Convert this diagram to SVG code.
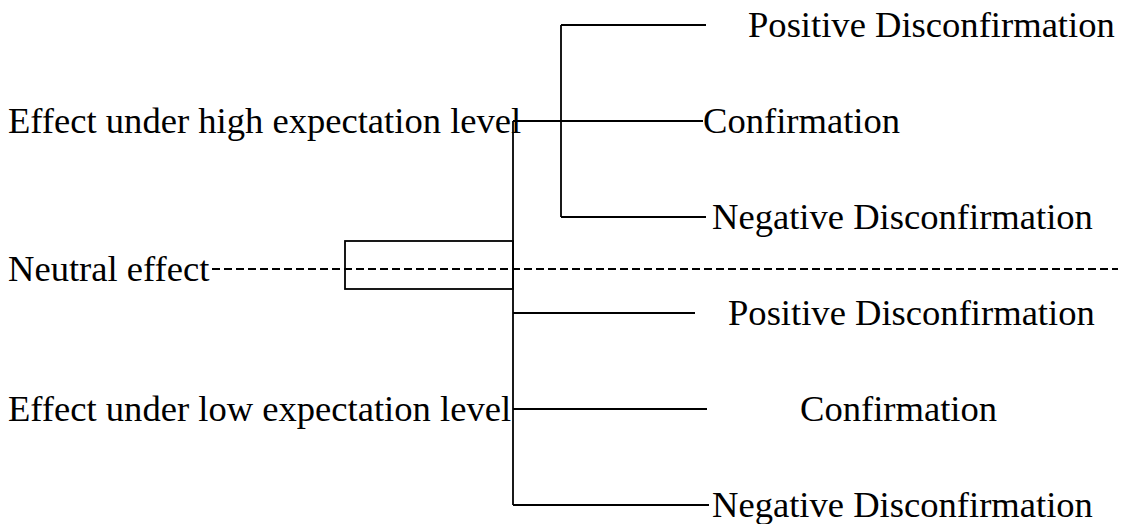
<svg xmlns="http://www.w3.org/2000/svg" width="1125" height="524" viewBox="0 0 1125 524">
<style>
text{font-family:"Liberation Serif","Times New Roman",serif;font-size:36.6px;fill:#000}
.ln{stroke:#000;stroke-width:1.8;fill:none}
.dash{stroke:#000;stroke-width:1.8;fill:none;stroke-dasharray:8 4}
</style>
<rect width="1125" height="524" fill="#fff"/>
<g id="connectors">
<line class="ln" x1="513" y1="121" x2="513" y2="505"/>
<line class="ln" x1="513" y1="121" x2="703" y2="121"/>
<line class="ln" x1="561" y1="25" x2="561" y2="217"/>
<line class="ln" x1="561" y1="25" x2="706" y2="25"/>
<line class="ln" x1="561" y1="217" x2="706" y2="217"/>
<rect class="ln" x="345" y="241" width="168" height="48"/>
<line class="dash" x1="212" y1="269" x2="1118" y2="269"/>
<line class="ln" x1="513" y1="313" x2="695" y2="313"/>
<line class="ln" x1="513" y1="409" x2="707" y2="409"/>
<line class="ln" x1="513" y1="505" x2="709" y2="505"/>
</g>
<g id="high"><text x="8" y="133">Effect under high expectation level</text></g>
<g id="neutral"><text x="8" y="281">Neutral effect</text></g>
<g id="low"><text x="8" y="421">Effect under low expectation level</text></g>
<g id="high-pos"><text x="748" y="37">Positive Disconfirmation</text></g>
<g id="high-conf"><text x="703" y="133">Confirmation</text></g>
<g id="high-neg"><text x="712" y="229">Negative Disconfirmation</text></g>
<g id="low-pos"><text x="728" y="325">Positive Disconfirmation</text></g>
<g id="low-conf"><text x="800" y="421">Confirmation</text></g>
<g id="low-neg"><text x="712" y="517">Negative Disconfirmation</text></g>
</svg>
